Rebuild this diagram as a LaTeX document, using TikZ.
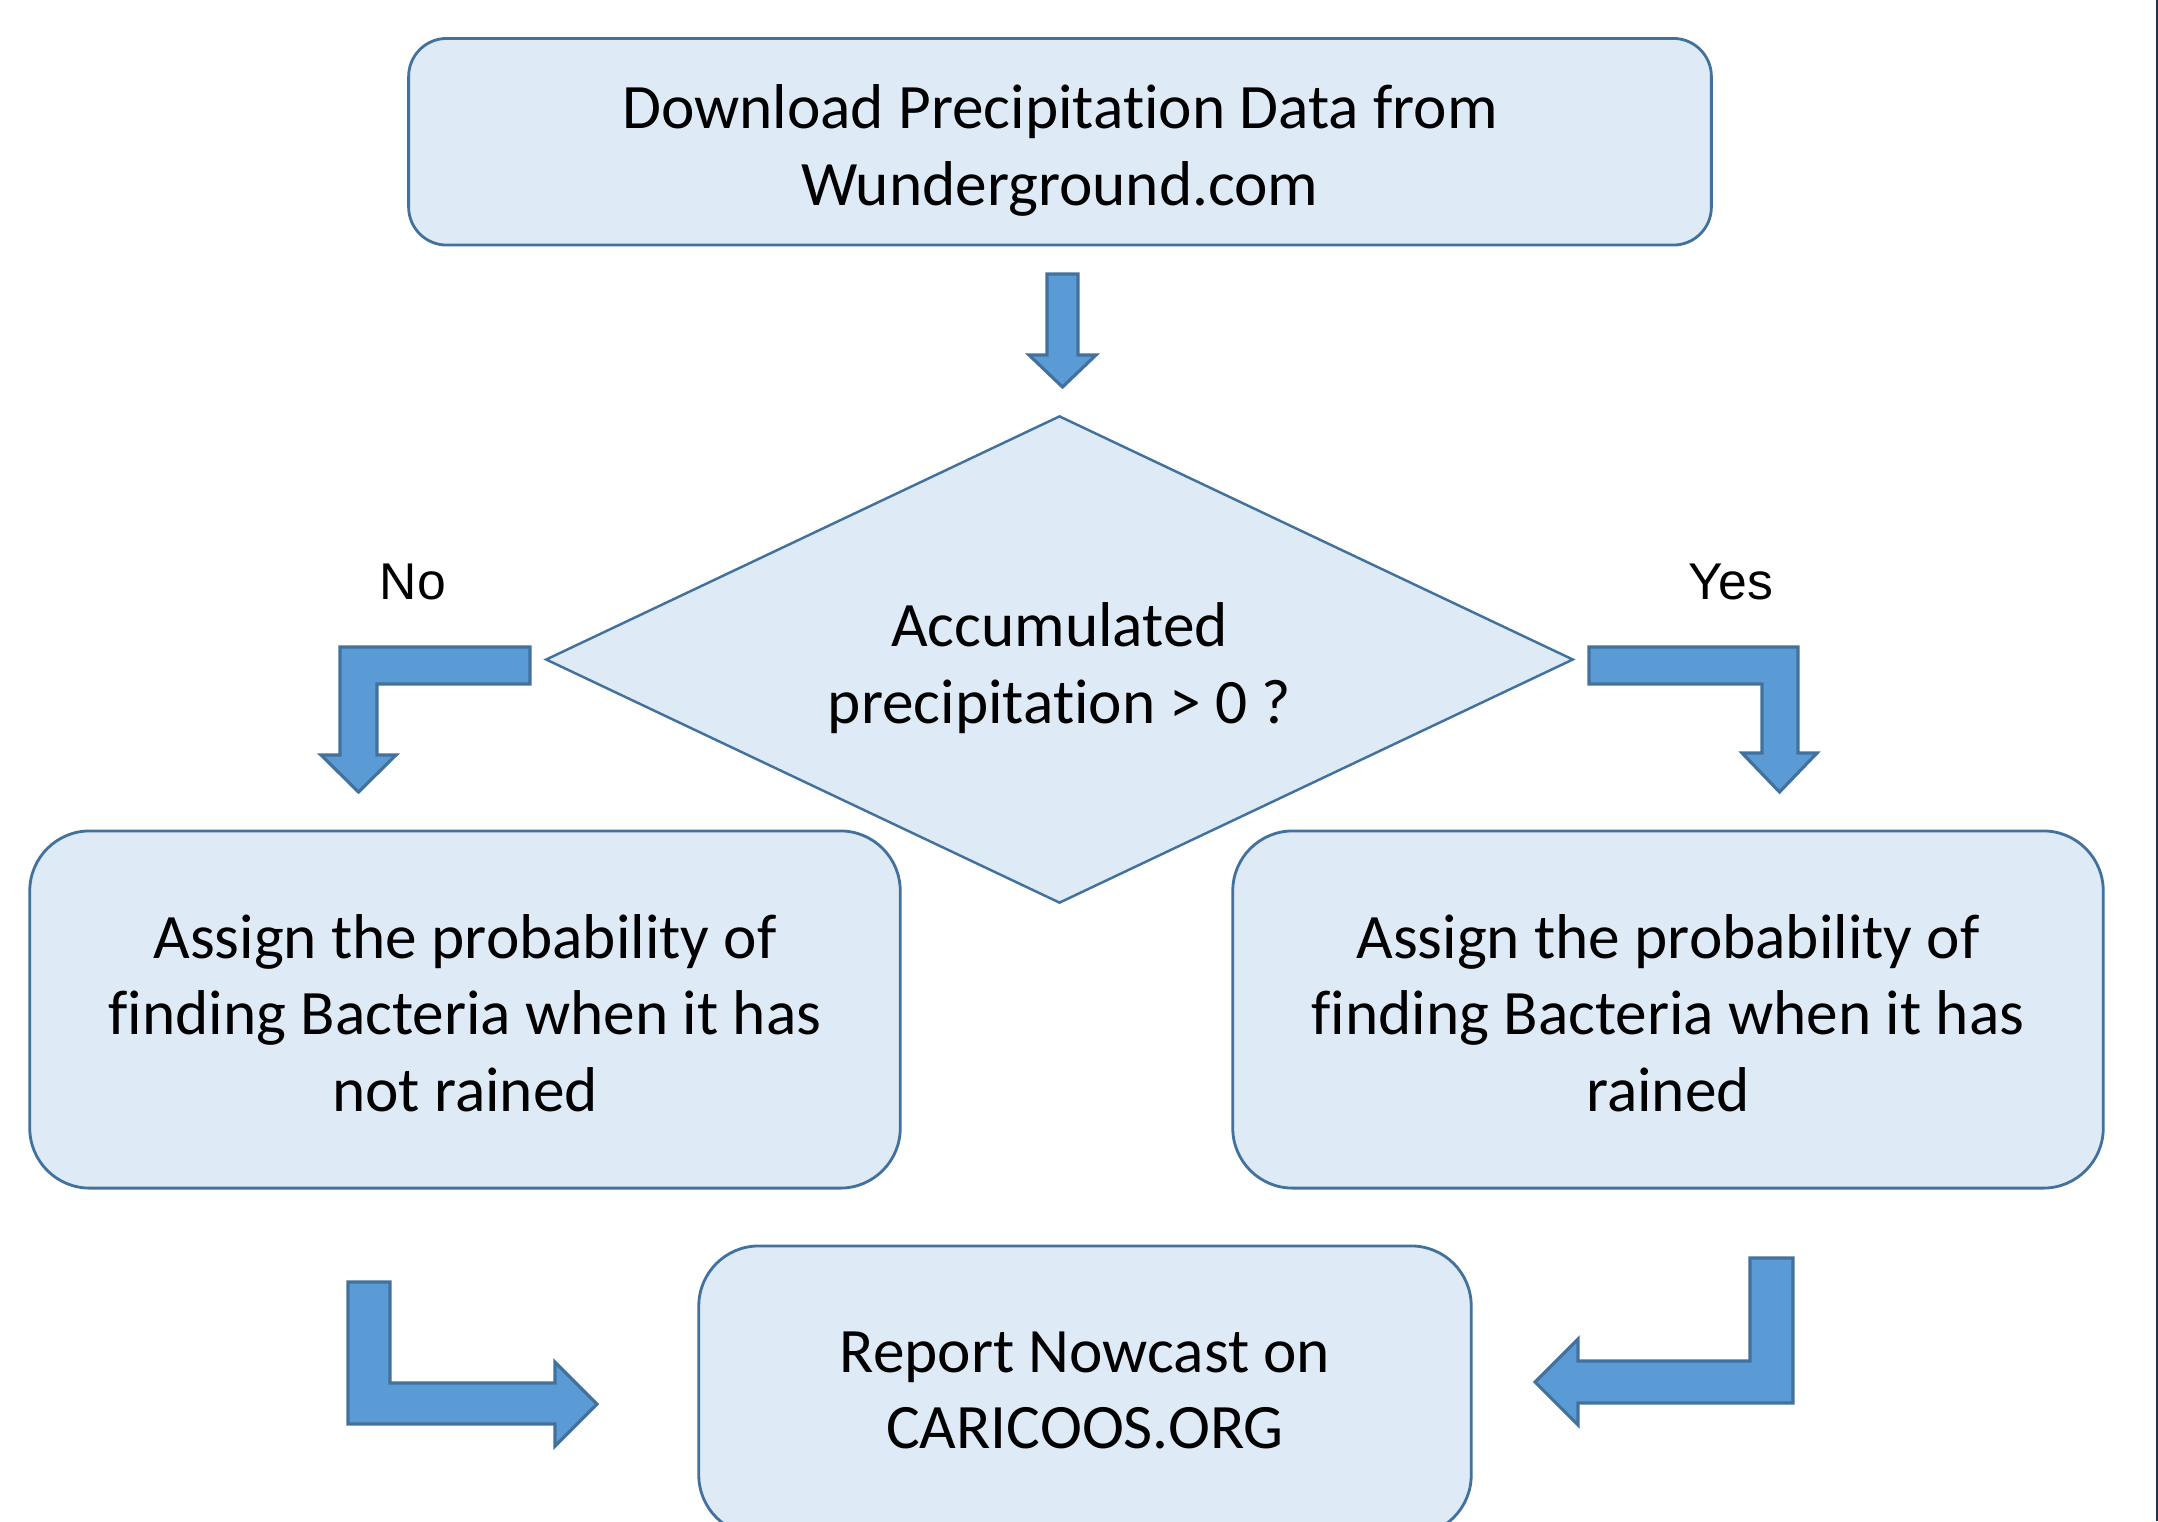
\documentclass[tikz,border=0pt]{standalone}
\usepackage{fontspec}
\setmainfont{Carlito}[Ligatures=NoCommon]
\newfontfamily\labelfont{Liberation Sans}
\usepackage{tikz}
\usetikzlibrary{shapes.geometric}

\definecolor{boxfill}{HTML}{DEEAF6}
\definecolor{boxline}{HTML}{41719C}
\definecolor{arrowfill}{HTML}{5B9BD5}
\definecolor{edgeline}{HTML}{1E3550}

% pushes the first text line down a little
\newcommand{\downpad}{\rule{0pt}{17.5pt}}

\begin{document}
\begin{tikzpicture}[x=0.01cm,y=-0.01cm,
  stepbox/.style={draw=boxline,fill=boxfill,line width=0.8pt,rectangle,
    align=center,inner sep=0pt,font=\fontsize{18}{21.8}\selectfont},
  decision/.style={draw=boxline,fill=boxfill,line width=0.7pt,diamond,
    shape aspect=2.1,align=center,inner sep=0pt,font=\fontsize{18}{21.8}\selectfont},
  blockarrow/.style={draw=boxline,fill=arrowfill,line width=0.9pt,line join=miter},
  answer/.style={font=\labelfont\fontsize{14.7}{17}\selectfont}]
  \clip (0,0) rectangle (2158,1521);
 % \draw[thin,gray!40] (0,0) grid[step=100] (2158,1521);
  \node[stepbox,rounded corners=0.38cm,minimum width=13.02cm,minimum height=2.065cm]
    (download) at (1060,141.75) {\downpad Download Precipitation Data from\\Wunderground.com};
  \node[decision,minimum width=10.27cm,minimum height=4.87cm]
    (rain) at (1059.5,659.5) {\downpad Accumulated\\precipitation > 0 ?};
  \node[stepbox,rounded corners=0.6cm,minimum width=8.7cm,minimum height=3.57cm]
    (norain) at (465,1009.5) {\rule{0pt}{14.5pt}Assign the probability of\\finding Bacteria when it has\\not rained};
  \node[stepbox,rounded corners=0.6cm,minimum width=8.7cm,minimum height=3.57cm]
    (rained) at (1668,1009.5) {\rule{0pt}{14.5pt}Assign the probability of\\finding Bacteria when it has\\rained};
  \node[stepbox,rounded corners=0.6cm,minimum width=7.72cm,minimum height=2.89cm]
    (report) at (1085,1390.5) {Report Nowcast on\\CARICOOS.ORG};
  \node[answer] (no) at (413,582) {No};
  \node[answer] (yes) at (1731,582) {Yes};
  % block arrows
  \draw[blockarrow] (1047,274) -- (1078,274) -- (1078,355) -- (1096,355) -- (1062.5,387)
    -- (1029,355) -- (1047,355) -- cycle;
  \draw[blockarrow] (530,647) -- (530,684) -- (377,684) -- (377,755) -- (396,755)
    -- (358.5,792) -- (321,755) -- (340,755) -- (340,647) -- cycle;
  \draw[blockarrow] (1589,647) -- (1798,647) -- (1798,753) -- (1817,753) -- (1779.5,792)
    -- (1742,753) -- (1762,753) -- (1762,684) -- (1589,684) -- cycle;
  \draw[blockarrow] (348,1282) -- (390,1282) -- (390,1383) -- (555,1383) -- (555,1362)
    -- (597,1404) -- (555,1446) -- (555,1424) -- (348,1424) -- cycle;
  \draw[blockarrow] (1750,1258) -- (1793,1258) -- (1793,1403) -- (1578,1403) -- (1578,1425)
    -- (1535,1382) -- (1578,1339) -- (1578,1361) -- (1750,1361) -- cycle;
  \fill[edgeline] (2155.5,0) rectangle (2158,1521);
\end{tikzpicture}
\end{document}
